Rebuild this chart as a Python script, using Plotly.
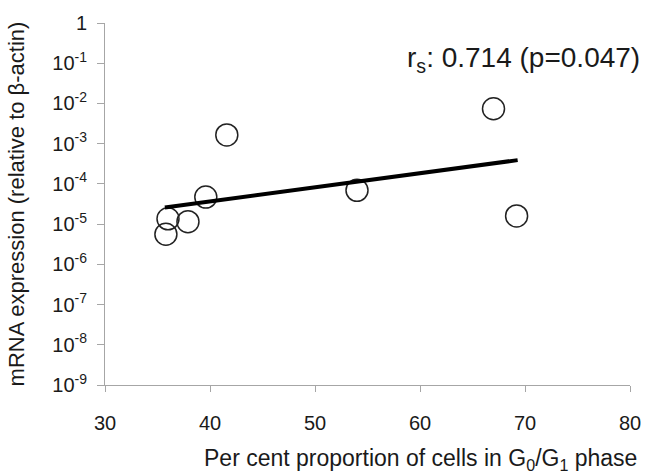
import plotly.graph_objects as go

# data
g0g1_percent = [35.8, 36.0, 37.9, 39.6, 41.6, 54.0, 67.0, 69.2]
mrna_expr = [5.6e-6, 1.35e-5, 1.15e-5, 4.7e-5, 1.65e-3, 6.9e-5, 7.4e-3, 1.6e-5]
trend_x = [35.7, 69.3]
trend_y = [2.6e-5, 3.9e-4]
y_tickvals = [1, 1e-1, 1e-2, 1e-3, 1e-4, 1e-5, 1e-6, 1e-7, 1e-8, 1e-9]
y_ticktext = ["1", "10<sup>-1</sup>", "10<sup>-2</sup>", "10<sup>-3</sup>", "10<sup>-4</sup>",
              "10<sup>-5</sup>", "10<sup>-6</sup>", "10<sup>-7</sup>", "10<sup>-8</sup>", "10<sup>-9</sup>"]
x_tickvals = [30, 40, 50, 60, 70, 80]

FONT = "Liberation Sans, Arial, sans-serif"
AXC = "#a6a6a6"
TXT = "#1a1a1a"

fig = go.Figure()
fig.add_trace(go.Scatter(x=g0g1_percent, y=mrna_expr, mode="markers",
                         marker=dict(symbol="circle-open", size=22, color="#222222",
                                     line=dict(width=1.5, color="#222222")),
                         showlegend=False))
fig.add_trace(go.Scatter(x=trend_x, y=trend_y, mode="lines",
                         line=dict(color="black", width=4), showlegend=False))

fig.add_annotation(x=1.0, y=0.9, xref="paper", yref="paper", xanchor="right", yanchor="middle",
                   xshift=12,
                   text="r<sub>s</sub>: 0.714 (p=0.047)", showarrow=False,
                   font=dict(family=FONT, size=28, color=TXT))

fig.add_annotation(x=0.6, y=-0.207, xref="paper", yref="paper", xanchor="center", yanchor="middle",
                   text="Per cent proportion of cells in G<sub>0</sub>/G<sub>1</sub> phase",
                   showarrow=False, font=dict(family=FONT, size=23, color=TXT))

fig.update_layout(
    width=653, height=476,
    margin=dict(l=105, r=14, t=13, b=91),
    plot_bgcolor="white", paper_bgcolor="white",
    font=dict(family=FONT, color=TXT),
)
fig.update_xaxes(range=[30, 80], tickvals=x_tickvals, showgrid=False, zeroline=False,
                 showline=True, linecolor=AXC, linewidth=1,
                 ticks="outside", tickcolor=AXC, ticklen=6,
                 tickfont=dict(size=20, family=FONT, color=TXT), ticklabelstandoff=14)
fig.update_yaxes(type="log", range=[-9, 0], tickvals=y_tickvals, ticktext=y_ticktext,
                 showgrid=False, zeroline=False, showline=True, linecolor=AXC, linewidth=1,
                 ticks="outside", tickcolor=AXC, ticklen=7,
                 tickfont=dict(size=20, family=FONT, color=TXT), ticklabelstandoff=6,
                 title=dict(text="mRNA expression (relative to β-actin)",
                            font=dict(size=22, family=FONT, color=TXT), standoff=21))

fig.write_html("out.html")
